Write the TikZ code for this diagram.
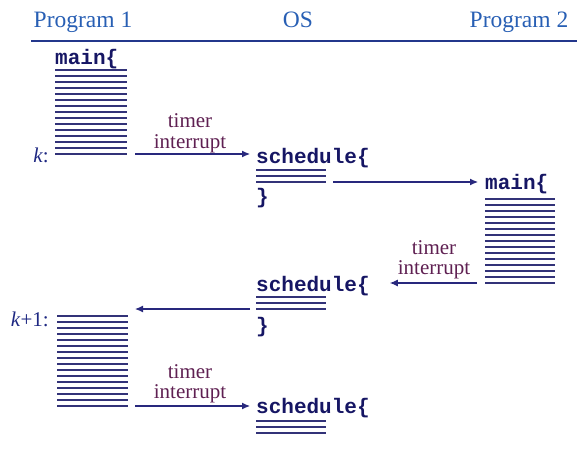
\documentclass[tikz,border=0pt]{standalone}
\usepackage{fontspec}
\setmainfont{Liberation Serif}
\setmonofont{Liberation Mono}
\usetikzlibrary{arrows.meta}

\definecolor{hdrblue}{RGB}{40,95,180}
\definecolor{rulec}{RGB}{35,55,140}
\definecolor{navy}{RGB}{22,22,100}
\definecolor{stackc}{RGB}{50,50,120}
\definecolor{plum}{RGB}{95,32,82}
\definecolor{kblue}{RGB}{30,40,130}
\definecolor{arrc}{RGB}{40,40,125}

% a block of code drawn as a stack of horizontal lines, with an anchor box named #1
\newcommand\codelines[5]{% name, left, top, width, number of lines
  \foreach \i in {1,...,#5}{\draw[codeline] (#2,{#3+6*(\i-1)}) -- ({#2+#4},{#3+6*(\i-1)});}
  \node[blockbox, minimum width=#4pt, minimum height={6pt*(#5-1)}, anchor=north west] (#1) at (#2,#3) {};
}

\tikzset{
  hdr/.style={text=hdrblue, font=\fontsize{23.5}{26}\selectfont, inner sep=0pt},
  code/.style={text=navy, font=\fontsize{21}{22}\selectfont\ttfamily\bfseries, inner sep=0pt},
  klab/.style={text=kblue, font=\fontsize{21}{22}\selectfont, inner sep=0pt},
  tlab/.style={text=plum, font=\fontsize{21}{20.5}\selectfont, align=center, inner sep=0pt},
  codeline/.style={draw=stackc, line width=1.4pt},
  blockbox/.style={draw=none, rectangle, inner sep=0pt, outer sep=0pt},
  arr/.style={draw=arrc, line width=1.1pt, -{Latex[length=8pt,width=7pt]}},
}

\begin{document}
\begin{tikzpicture}[x=1pt,y=-1pt]
\useasboundingbox (0,0) rectangle (588,450);

% column headings
\node[hdr, anchor=base] (p1) at (83,27) {Program 1};
\node[hdr, anchor=base] (os) at (298,27) {OS};
\node[hdr, anchor=base] (p2) at (519,27) {Program 2};
\draw[draw=rulec, line width=1.8pt] (31,41) -- (577,41);

% Program 1, first slice
\node[code, anchor=base west] (m1) at (55,64) {main\{};
\codelines{s1}{55}{70}{72}{15}
\node[klab, anchor=base east] (k1) at (49,162) {\textit{k}:};

% first call to the scheduler
\node[code, anchor=base west] (sch1) at (256,163) {schedule\{};
\codelines{sl1}{256}{170}{70}{3}
\node[code, anchor=base west] (c1) at (256,203) {\}};

% Program 2
\node[code, anchor=base west] (m2) at (485,189) {main\{};
\codelines{s2}{485}{199}{70}{15}

% second call to the scheduler
\node[code, anchor=base west] (sch2) at (256,291) {schedule\{};
\codelines{sl2}{256}{297}{70}{3}
\node[code, anchor=base west] (c2) at (256,332) {\}};

% Program 1, next slice
\node[klab, anchor=base east] (k2) at (49,326) {\textit{k}+1:};
\codelines{s3}{57}{316}{71}{16}

% third call to the scheduler
\node[code, anchor=base west] (sch3) at (256,413) {schedule\{};
\codelines{sl3}{256}{421}{70}{3}

% interrupt labels
\node[tlab] (t1) at (190,133.5) {timer\\interrupt};
\node[tlab] (t2) at (434,260) {timer\\interrupt};
\node[tlab] (t3) at (190,384) {timer\\interrupt};

% control transfers
\draw[arr] ([xshift=8pt]s1.south east) -- ([xshift=-6pt]s1.south east -| sch1.west);
\draw[arr] ([xshift=7pt]sl1.south east) -- ([xshift=-7pt]sl1.south east -| m2.west);
\draw[arr] ([xshift=-8pt]s2.south west) -- ([xshift=20pt]s2.south west -| sch2.east);
\draw[arr] ([xshift=-6pt]sl2.south west) -- ([xshift=7pt]sl2.south west -| s3.east);
\draw[arr] ([xshift=7pt]s3.south east) -- ([xshift=-6pt]s3.south east -| sch3.west);
\end{tikzpicture}
\end{document}
